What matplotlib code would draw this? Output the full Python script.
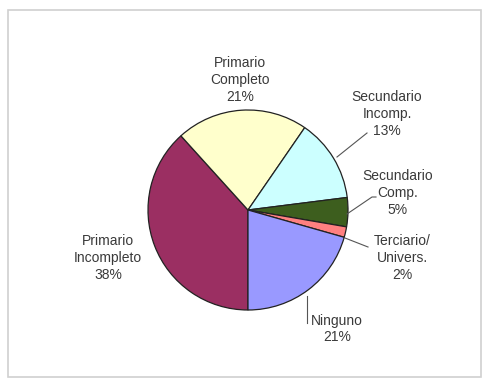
import numpy as np
import matplotlib.pyplot as plt
from matplotlib.patches import Rectangle

# education level shares (%)
categorias = ['Primario\nIncompleto', 'Primario\nCompleto', 'Secundario\nIncomp.',
              'Secundario\nComp.', 'Terciario/\nUnivers.', 'Ninguno']
valores = [38.3, 21.3, 13.4, 4.7, 1.7, 20.6]
colores = ['#9B2F62', '#FFFFCC', '#CCFFFF', '#3D5E1E', '#FF8080', '#9999FF']

W, H = 482, 380
fig = plt.figure(figsize=(W / 100, H / 100), dpi=100)
ax = fig.add_axes([0, 0, 1, 1])

# outer chart frame
fig.patches.append(Rectangle((8 / W, 3 / H), 473 / W, 367 / H, transform=fig.transFigure,
                             fill=False, edgecolor='#d0d0d0', linewidth=1.2))

cx, cy, r = 248, H - 210, 100
wedges, _ = ax.pie(valores, colors=colores, startangle=270, counterclock=False,
                   center=(cx, cy), radius=r, frame=True,
                   wedgeprops=dict(edgecolor='#222222', linewidth=0.9))
ax.set_xlim(0, W)
ax.set_ylim(0, H)
ax.set_aspect('equal')
ax.axis('off')

total = sum(valores)
etiquetas = [f"{c}\n{round(v / total * 100)}%" for c, v in zip(categorias, valores)]

# label anchor positions (pixels from top-left) and leader lines
pos = [(108, 258), (240, 80), (387, 114), (398, 193), (402, 258), (337, 329)]
lineas = [None, None,
          [(337, 157), (367, 133)],
          [(347, 214), (372, 197), (376, 197)],
          [(345, 238), (368, 247)],
          [(307, 296), (307, 323)]]

for txt, (x, y), ln in zip(etiquetas, pos, lineas):
    ax.text(x, H - y, txt, ha='center', va='center', fontsize=10,
            family='Liberation Sans', color='#3a3a3a', linespacing=1.25)
    if ln:
        xs = [p[0] for p in ln]
        ys = [H - p[1] for p in ln]
        ax.plot(xs, ys, color='#555555', linewidth=0.8)

fig.savefig('out.png', dpi=100)
